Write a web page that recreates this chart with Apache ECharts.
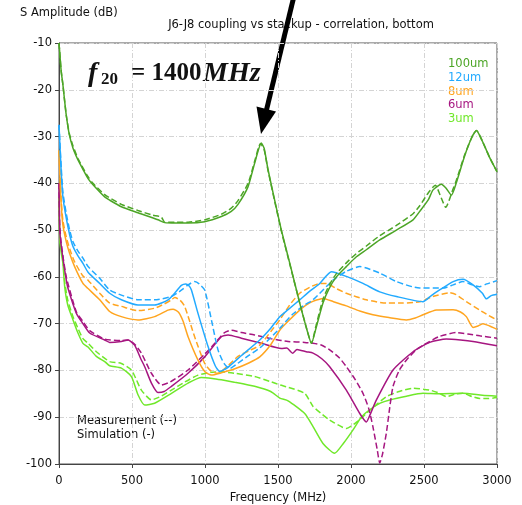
<!DOCTYPE html>
<html><head><meta charset="utf-8">
<script src="https://cdn.jsdelivr.net/npm/echarts@6/dist/echarts.min.js"></script>
<style>html,body{margin:0;padding:0;background:#fff}#c{width:522px;height:505px}</style>
</head><body><div id="c"></div>
<script>
// ---- data ([frequency MHz, dB]) ----
const xTicks = [0, 500, 1000, 1500, 2000, 2500, 3000];
const yTicks = [-100, -90, -80, -70, -60, -50, -40, -30, -20, -10];
const legendNames = ['100um', '12um', '8um', '6um', '3um'];

const sim100 = [[0,-10],[5,-12],[15,-16],[27,-19],[39,-22.5],[50,-25.5],[70,-29.5],[96,-32.5],[130,-35],[164,-37],[199,-39],[233,-40.3],[313,-42.9],[347,-43.6],[427,-45],[541,-46.3],[678,-47.8],[724,-48.4],[800,-48.5],[884,-48.5],[998,-48.2],[1112,-47.1],[1180,-46],[1226,-44.5],[1295,-40.7],[1340,-35.7],[1386,-31.4],[1405,-32.5],[1432,-37.1],[1480,-44],[1523,-50],[1580,-57],[1649,-65.6],[1700,-71.5],[1729,-74.2],[1760,-71],[1808,-65.6],[1850,-62.5],[1900,-60],[1968,-57.8],[2037,-55.7],[2105,-54.2],[2197,-52.1],[2311,-50],[2425,-47.8],[2471,-46],[2530,-43.5],[2562,-41.4],[2619,-40.2],[2650,-41],[2688,-42.5],[2720,-40],[2780,-34],[2830,-30],[2859,-28.7],[2900,-31],[2950,-34.5],[3000,-37.5]];
const meas100 = [[0,-10],[5,-12],[15,-16],[27,-19],[39,-22.5],[50,-25.5],[70,-29.3],[96,-32],[130,-34.7],[164,-36.7],[199,-38.6],[233,-40],[313,-42.4],[427,-44.5],[541,-45.8],[640,-46.8],[700,-47.2],[724,-48.3],[800,-48.3],[884,-48.3],[998,-47.8],[1112,-46.6],[1180,-45.3],[1226,-43.7],[1295,-40],[1340,-35.3],[1380,-31.5],[1405,-32.8],[1432,-37.3],[1480,-44.2],[1523,-50.2],[1580,-57.2],[1649,-65.6],[1700,-71.5],[1729,-74.2],[1760,-70.5],[1808,-64.8],[1850,-61.8],[1900,-59.3],[1968,-57],[2037,-55],[2105,-53.4],[2197,-51.2],[2311,-49],[2425,-46.5],[2471,-44.8],[2530,-42],[2578,-40.4],[2610,-42.5],[2649,-45.1],[2697,-41.4],[2720,-39.5],[2780,-33.8],[2830,-30],[2859,-28.7],[2900,-31],[2950,-34.5],[3000,-37.5]];

const sim12 = [[0,-27.5],[8,-33],[16,-38],[27,-43],[50,-47.5],[73,-51],[96,-53.5],[130,-55.5],[164,-57.1],[199,-59],[279,-61.4],[347,-63.5],[427,-64.9],[541,-66],[655,-66],[747,-64.9],[800,-63.2],[838,-61.8],[868,-61.5],[890,-61.9],[907,-62.8],[952,-67.8],[1021,-74.9],[1070,-79],[1100,-80.2],[1150,-79.5],[1250,-76.8],[1375,-73.5],[1450,-71],[1512,-68.5],[1569,-67],[1649,-64.9],[1720,-63],[1786,-61.4],[1866,-58.9],[1968,-59.9],[2082,-61.4],[2197,-63.2],[2311,-64.2],[2493,-65.3],[2550,-64],[2607,-62.8],[2700,-61],[2767,-60.5],[2836,-61.7],[2900,-63.5],[2927,-64.7],[2960,-64],[3000,-63.7]];
const meas12 = [[0,-27.5],[8,-32.5],[16,-37],[27,-42],[50,-46.5],[73,-50],[96,-52.5],[130,-54.5],[164,-56],[199,-57.8],[279,-60.3],[347,-62.8],[427,-63.9],[541,-64.9],[655,-64.9],[770,-64.2],[840,-62.8],[884,-61.7],[929,-61],[960,-61.5],[998,-62.8],[1044,-69.2],[1089,-75.6],[1130,-78.5],[1170,-79.6],[1210,-78.8],[1300,-76.8],[1375,-75.2],[1450,-73],[1512,-71],[1600,-68],[1683,-66],[1740,-64.9],[1877,-60.7],[1968,-58.8],[2060,-57.8],[2197,-59.2],[2311,-61],[2471,-62.4],[2630,-62.4],[2700,-61.7],[2767,-61],[2830,-61.7],[2882,-62.1],[2930,-61.5],[3000,-60.8]];

const sim8 = [[0,-33],[8,-40],[16,-45],[27,-49],[50,-52.5],[73,-55],[107,-57.8],[164,-61.4],[199,-62.5],[279,-64.9],[347,-67.4],[427,-68.5],[541,-69.2],[655,-68.5],[747,-67.1],[781,-66.9],[820,-67.6],[850,-69.5],[884,-72.8],[952,-77.8],[1000,-80.3],[1044,-81],[1112,-80.5],[1200,-79.7],[1300,-78.4],[1375,-77.1],[1450,-74.5],[1512,-71.4],[1569,-69.5],[1649,-67.1],[1720,-65.5],[1808,-64.6],[1880,-65.3],[1968,-66.2],[2060,-67.3],[2150,-68.1],[2260,-68.7],[2379,-69.2],[2440,-68.8],[2493,-68.1],[2585,-67.1],[2699,-67],[2750,-67.5],[2790,-68.5],[2836,-70.8],[2870,-70.5],[2904,-70],[2950,-70.5],[3000,-71.2]];
const meas8 = [[0,-33],[8,-39],[16,-44],[27,-48],[50,-51.5],[73,-54],[107,-56.8],[164,-59.8],[199,-60.7],[279,-63.5],[347,-65.6],[427,-66.3],[541,-67.2],[655,-66.7],[720,-65.8],[770,-64.9],[793,-64.4],[830,-65],[861,-66.3],[929,-72.8],[998,-78.5],[1044,-80.2],[1089,-80.6],[1150,-79.2],[1226,-77],[1300,-75.8],[1375,-74.6],[1455,-71.5],[1512,-69.2],[1580,-66],[1649,-63.5],[1720,-62.2],[1786,-61.4],[1831,-61.4],[1900,-62.5],[1968,-63.5],[2105,-64.9],[2242,-65.6],[2350,-65.6],[2471,-65.3],[2560,-64.2],[2676,-63.4],[2720,-63.8],[2790,-65.3],[2882,-67.1],[2940,-68.2],[3000,-69.2]];

const sim6 = [[0,-40],[5,-50],[16,-53.5],[50,-60.7],[62,-62.5],[119,-67.8],[164,-70],[210,-72],[313,-73.5],[347,-74],[427,-73.8],[473,-73.5],[518,-74.6],[560,-77.5],[587,-79.2],[633,-82.7],[678,-84.7],[720,-84.5],[770,-83.4],[884,-80.6],[998,-77.1],[1112,-72.8],[1158,-72.4],[1249,-73.1],[1386,-74.2],[1523,-75.3],[1560,-75.2],[1600,-76.3],[1630,-75.5],[1694,-76],[1740,-76.3],[1800,-77.5],[1854,-79.2],[1968,-84.2],[2060,-89.2],[2105,-91],[2130,-89.5],[2174,-86.3],[2288,-79.9],[2425,-76],[2539,-74],[2653,-73.3],[2750,-73.5],[2836,-73.8],[3000,-74.7]];
const meas6 = [[0,-40],[5,-49],[16,-53],[50,-60],[119,-67.5],[164,-69.5],[210,-71.5],[313,-73.3],[427,-73.6],[473,-73.5],[518,-74.4],[564,-76.3],[633,-80.6],[701,-83.1],[760,-82.5],[884,-79.9],[998,-76.5],[1067,-74.2],[1130,-72],[1181,-71.4],[1250,-71.9],[1340,-72.4],[1450,-73.2],[1569,-73.8],[1683,-74],[1740,-74.2],[1800,-74.6],[1854,-75.6],[1920,-77.3],[1968,-79.2],[2030,-82],[2082,-84.9],[2120,-88],[2150,-92],[2180,-97],[2197,-99.8],[2215,-98],[2242,-93.4],[2265,-88],[2288,-83.4],[2330,-80],[2379,-77.8],[2450,-75.5],[2516,-74.2],[2600,-72.8],[2722,-71.9],[2800,-72.2],[2882,-72.6],[3000,-73.1]];

const sim3 = [[0,-43],[5,-52],[16,-55],[27,-57.1],[39,-62.1],[60,-66],[96,-69.2],[130,-72],[164,-74.2],[199,-75],[256,-77],[313,-78.1],[347,-79],[427,-79.5],[496,-81.3],[541,-85.2],[587,-87.4],[655,-87],[770,-84.9],[884,-82.7],[975,-81.5],[1050,-81.7],[1112,-82],[1200,-82.5],[1340,-83.4],[1450,-84.5],[1512,-85.9],[1569,-86.5],[1683,-89.2],[1740,-92],[1808,-95.6],[1888,-97.7],[1950,-95.5],[2014,-92.7],[2070,-90],[2128,-88.4],[2200,-87],[2265,-86.3],[2380,-85.5],[2493,-84.9],[2600,-85],[2767,-84.9],[2900,-85.3],[3000,-85.5]];
const meas3 = [[0,-43],[5,-51],[16,-54],[27,-56.5],[39,-61],[60,-65],[96,-68.5],[130,-71],[164,-73.2],[199,-74.2],[256,-76],[347,-78.1],[427,-78.5],[496,-79.9],[530,-82],[564,-84.2],[633,-86.3],[700,-85.5],[770,-84.2],[860,-82.5],[952,-81],[1040,-80.4],[1112,-80.3],[1200,-80.6],[1340,-81.3],[1450,-82.4],[1512,-83.1],[1569,-83.6],[1683,-84.9],[1740,-87.7],[1800,-89.3],[1854,-90.6],[1968,-92.4],[2040,-91],[2105,-89.2],[2170,-87.4],[2242,-85.6],[2330,-84.5],[2425,-83.8],[2539,-84.2],[2600,-84.8],[2653,-85.6],[2720,-85],[2767,-84.9],[2830,-85.6],[2882,-86],[2940,-86],[3000,-85.8]];

// ---- styling ----
const colors = ['#4ca526', '#22aaff', '#ffa520', '#a61680', '#70e82a'];
const FONT = 'DejaVu Sans';
const FS = 11.5;

const groups = [[sim100, meas100], [sim12, meas12], [sim8, meas8], [sim6, meas6], [sim3, meas3]];
const series = [];
for (let i = groups.length - 1; i >= 0; i--) {
  const [s, m] = groups[i];
  series.push({type:'line', name: legendNames[i] + ' sim', data: s, symbol:'none', smooth:0.2, animation:false,
    lineStyle:{color: colors[i], width:1.5, type:'solid'}, itemStyle:{color: colors[i]}});
  series.push({type:'line', name: legendNames[i] + ' meas', data: m, symbol:'none', smooth:0.2, animation:false,
    lineStyle:{color: colors[i], width:1.5, type:[6,3]}, itemStyle:{color: colors[i]}});
}

const grid = {left:59, right:25, top:43, bottom:41};
const chart = echarts.init(document.getElementById('c'), null, {renderer:'canvas'});

const graphics = [
  {type:'text', left:20, top:7, style:{text:'S Amplitude (dB)', font: FS + 'px "' + FONT + '"', fill:'#111'}},
  {type:'text', x:301, y:25, style:{text:'J6-J8 coupling vs stackup - correlation, bottom', font: FS + 'px "' + FONT + '"', fill:'#111', align:'center', verticalAlign:'middle'}},
  {type:'text', x:77, y:421, style:{text:'Measurement (--)', font: FS + 'px "' + FONT + '"', fill:'#111', verticalAlign:'middle'}},
  {type:'text', x:77, y:435, style:{text:'Simulation (-)', font: FS + 'px "' + FONT + '"', fill:'#111', verticalAlign:'middle'}},
  // f_20 annotation
  {type:'text', x:88, y:74, style:{text:'f', font:'italic bold 28px "Liberation Serif"', fill:'#111', verticalAlign:'middle'}},
  {type:'text', x:101, y:80, style:{text:'20', font:'bold 17px "Liberation Serif"', fill:'#111', verticalAlign:'middle'}},
  {type:'text', x:131, y:74, style:{text:'= 1400', font:'bold 25px "Liberation Serif"', fill:'#111', verticalAlign:'middle'}},
  {type:'text', x:203, y:74, style:{text:'MHz', font:'italic bold 28px "Liberation Serif"', fill:'#111', verticalAlign:'middle'}},
  // arrow
  {type:'line', shape:{x1:294, y1:-4, x2:266, y2:112}, style:{stroke:'#000', lineWidth:5}},
  {type:'polygon', shape:{points:[[261,134],[256.5,106.5],[276,111.5]]}, style:{fill:'#000'}}
];
const legendY = [64, 78, 92, 105, 119];
legendNames.forEach((n, i) => {
  graphics.push({type:'text', x:448, y:legendY[i], style:{text:n, font: FS + 'px "' + FONT + '"', fill: colors[i], verticalAlign:'middle'}});
});

chart.setOption({
  animation:false,
  backgroundColor:'#fff',
  grid: Object.assign({show:true, borderColor:'#555', borderWidth:1, backgroundColor:'transparent', containLabel:false, outerBoundsMode:'none'}, grid),
  xAxis: {type:'value', min: xTicks[0], max: xTicks[xTicks.length-1], interval:500,
    name:'Frequency (MHz)', nameLocation:'middle', nameGap:28,
    nameTextStyle:{fontFamily:FONT, fontSize:FS, color:'#111'},
    axisLine:{show:true, lineStyle:{color:'#444'}}, axisTick:{show:true, length:4, lineStyle:{color:'#444'}},
    axisLabel:{fontFamily:FONT, fontSize:FS, color:'#111', margin:11, formatter: v => String(v)},
    splitLine:{show:true, lineStyle:{color:'#d4d4d4', type:[5,2,1,2]}}},
  yAxis: {type:'value', min: yTicks[0], max: yTicks[yTicks.length-1], interval:10,
    axisLine:{show:true, lineStyle:{color:'#444'}}, axisTick:{show:true, length:4, lineStyle:{color:'#444'}},
    axisLabel:{fontFamily:FONT, fontSize:FS, color:'#111', margin:7, formatter: v => String(v)},
    splitLine:{show:true, lineStyle:{color:'#d4d4d4', type:[5,2,1,2]}}},
  series: series,
  graphic: graphics
});
</script></body></html>
